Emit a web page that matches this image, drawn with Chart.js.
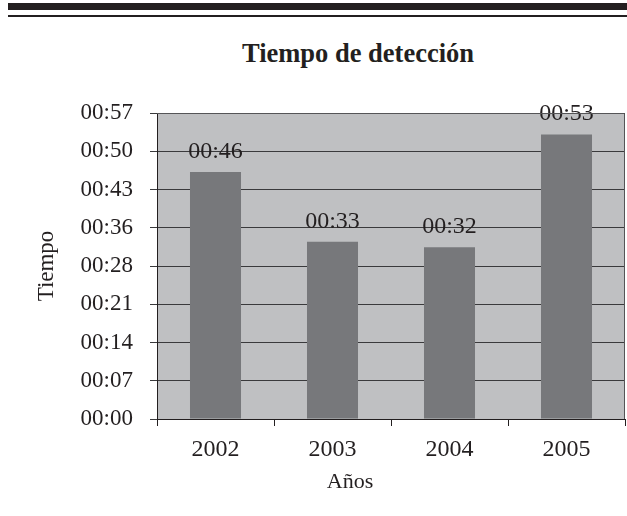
<!DOCTYPE html>
<html>
<head>
<meta charset="utf-8">
<script src="https://cdn.jsdelivr.net/npm/chart.js@4.4.1/dist/chart.umd.min.js"></script>
<style>
  body { margin: 0; background: #fff; }
  #wrap { position: relative; width: 627px; height: 516px; overflow: hidden; }
  #chart { position: absolute; left: 0; top: 0; }
  .rule-thick { position: absolute; left: 8px; right: 0; top: 3px; height: 7px; background: #231f20; }
  .rule-thin { position: absolute; left: 8px; right: 0; top: 15px; height: 2px; background: #231f20; }
  .txt { position: absolute; font-family: 'Liberation Serif', 'Times New Roman', serif; color: #231f20; white-space: nowrap; transform: translateX(-50%); }
  #title { left: 358px; top: 40px; font-size: 26.5px; line-height: 26px; font-weight: bold; }
  #xtitle { left: 350px; top: 470px; font-size: 22px; line-height: 22px; }
</style>
</head>
<body>
<div id="wrap">
  <div class="rule-thick"></div>
  <div class="rule-thin"></div>
  <div class="txt" id="title">Tiempo de detección</div>
  <canvas id="chart" width="627" height="516"></canvas>
  <div class="txt" id="xtitle">Años</div>
</div>
<script>
// Data (seconds)
const years = ['2002', '2003', '2004', '2005'];
const detectionSeconds = [46, 33, 32, 53];
const yTickLabels = ['00:00', '00:07', '00:14', '00:21', '00:28', '00:36', '00:43', '00:50', '00:57'];

const fontFamily = "'Liberation Serif', 'Times New Roman', serif";
const textColor = '#231f20';

function fmt(sec) {
    const s = Math.round(sec);
    return '00:' + String(s).padStart(2, '0');
}

// gray plot background + top/right border
const plotBackground = {
    id: 'plotBackground',
    beforeDraw(chart) {
        const { ctx, chartArea: a } = chart;
        ctx.save();
        ctx.fillStyle = '#bfc0c2';
        ctx.fillRect(a.left, a.top, a.right - a.left, a.bottom - a.top);
        ctx.restore();
    },
    afterDraw(chart) {
        const { ctx, chartArea: a } = chart;
        ctx.save();
        ctx.strokeStyle = '#555557';
        ctx.lineWidth = 1;
        ctx.beginPath();
        ctx.moveTo(a.left, a.top + 0.5);
        ctx.lineTo(a.right - 0.5, a.top + 0.5);
        ctx.lineTo(a.right - 0.5, a.bottom);
        ctx.stroke();
        ctx.restore();
    }
};

// value labels over the bars
const barLabels = {
    id: 'barLabels',
    afterDatasetsDraw(chart) {
        const { ctx } = chart;
        const meta = chart.getDatasetMeta(0);
        ctx.save();
        ctx.font = '24px ' + fontFamily;
        ctx.fillStyle = textColor;
        ctx.textAlign = 'center';
        ctx.textBaseline = 'alphabetic';
        meta.data.forEach((bar, i) => {
            ctx.fillText(fmt(detectionSeconds[i]), bar.x, bar.y - 14);
        });
        ctx.restore();
    }
};

const ctx = document.getElementById('chart').getContext('2d');
new Chart(ctx, {
    type: 'bar',
    data: {
        labels: years,
        datasets: [{
            data: detectionSeconds,
            backgroundColor: '#77787b',
            borderWidth: 0,
            categoryPercentage: 1,
            barPercentage: 0.436
        }]
    },
    options: {
        responsive: false,
        animation: false,
        events: [],
        layout: { padding: { top: 113, right: 2, left: 0, bottom: 0 } },
        plugins: {
            legend: { display: false },
            tooltip: { enabled: false },
            title: { display: false }
        },
        scales: {
            x: {
                grid: {
                    drawOnChartArea: false,
                    drawTicks: true,
                    tickLength: 7,
                    color: '#231f20',
                    offset: true
                },
                border: { color: '#231f20', width: 1 },
                ticks: {
                    color: textColor,
                    font: { family: fontFamily, size: 24 },
                    padding: 9,
                    maxRotation: 0
                },
                afterFit(scale) { scale.height = 97; }
            },
            y: {
                min: 0,
                max: 57,
                ticks: {
                    stepSize: 57 / 8,
                    color: textColor,
                    font: { family: fontFamily, size: 23 },
                    padding: 17,
                    callback: (v, i) => yTickLabels[i]
                },
                grid: {
                    color: '#3a3a3c',
                    lineWidth: 1,
                    drawTicks: true,
                    tickLength: 7
                },
                border: { color: '#231f20', width: 1 },
                title: {
                    display: true,
                    text: 'Tiempo',
                    color: textColor,
                    font: { family: fontFamily, size: 23 },
                    padding: { top: 33, bottom: 0 }
                },
                afterFit(scale) { scale.width = 157; }
            }
        }
    },
    plugins: [plotBackground, barLabels]
});
</script>
</body>
</html>
